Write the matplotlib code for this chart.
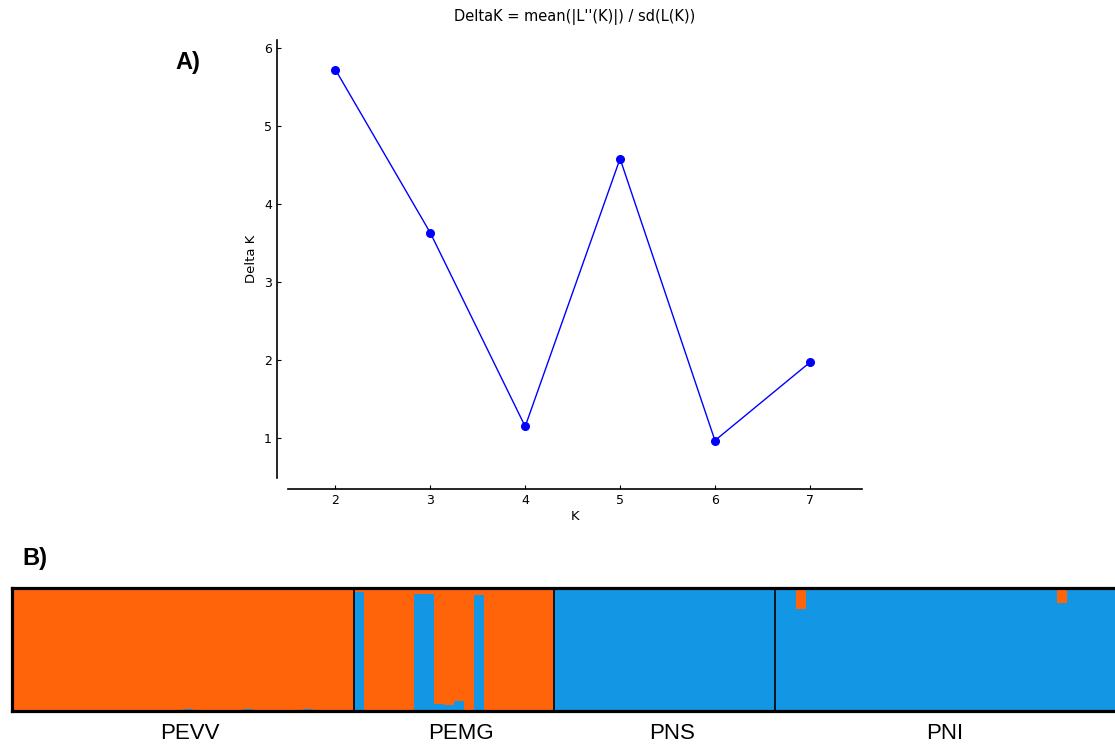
import matplotlib
matplotlib.use("Agg")
import matplotlib.pyplot as plt
import numpy as np

# panel A: Evanno DeltaK
k_values = [2, 3, 4, 5, 6, 7]
delta_k = [5.72, 3.63, 1.15, 4.58, 0.97, 1.97]

# panel B: STRUCTURE membership (fraction of the blue cluster per individual)
pop_names = ['PEVV', 'PEMG', 'PNS', 'PNI']
pevv_blue = [0.0] * 17 + [0.02] + [0.0] * 5 + [0.02] + [0.0] * 5 + [0.02, 0.0, 0.01, 0.0, 0.0]
pemg_blue = [0.97, 0.0, 0.0, 0.0, 0.0, 0.0, 0.95, 0.95, 0.06, 0.05, 0.08, 0.0,
             0.94, 0.0, 0.0, 0.0, 0.0, 0.0, 0.01, 0.0]
pns_blue = [0.99, 0.99, 0.99, 0.99, 0.985, 0.99, 0.99, 0.99, 0.99, 0.985, 0.99,
            0.99, 0.99, 0.985, 0.99, 0.99, 0.99, 0.99, 0.99, 0.99, 0.99, 0.99]
pni_blue = [0.98, 0.99, 0.83, 0.99, 0.99, 0.99, 0.99, 0.99, 0.99, 0.99, 0.99,
            0.99, 0.98, 0.98, 0.99, 0.99, 0.985, 0.98, 0.98, 0.99, 0.99, 0.99,
            0.99, 0.99, 0.99, 0.99, 0.99, 0.99, 0.88, 0.99, 0.99, 0.99, 0.99,
            0.99, 0.99]

orange = '#FF640A'
blue = '#1396E3'

fig = plt.figure(figsize=(11.15, 7.46), dpi=100)

# ---- panel A ----
ax = fig.add_axes([288 / 1115, 1 - 478 / 746, 574 / 1115, 438 / 746])
ax.plot(k_values, delta_k, color='#0000ff', lw=1, marker='o', ms=5.5)
ax.set_xlim(1.5, 7.55)
ax.set_ylim(0.49, 6.1)
ax.set_xticks(k_values)
ax.set_yticks([1, 2, 3, 4, 5, 6])
for side in ['top', 'right']:
    ax.spines[side].set_visible(False)
for side in ['left', 'bottom']:
    ax.spines[side].set_position(('outward', 8))
    ax.spines[side].set_linewidth(1.2)
ax.tick_params(direction='in', length=3, labelsize=9)
ax.set_xlabel('K', fontsize=9.5, labelpad=2)
ax.set_ylabel('Delta K', fontsize=9.5)
ax.set_title("DeltaK = mean(|L''(K)|) / sd(L(K))", fontsize=10.5, pad=14)
fig.text(175 / 1115, 1 - 63 / 746, 'A)', fontsize=17, fontweight='bold',
         family='Liberation Sans', va='center')

# ---- panel B ----
fig.text(22 / 1115, 1 - 558 / 746, 'B)', fontsize=17, fontweight='bold',
         family='Liberation Sans', va='center')
groups = [pevv_blue, pemg_blue, pns_blue, pni_blue]
blue_all = np.concatenate(groups)
n = len(blue_all)
x = np.arange(n)
xmax = 110.5
bx = fig.add_axes([12 / 1115, 1 - 711 / 746, 1110 / 1115, 123 / 746])
bx.bar(x, blue_all, width=1.0, color=blue, align='edge', lw=0)
bx.bar(x, 1 - blue_all, bottom=blue_all, width=1.0, color=orange, align='edge', lw=0)
bx.set_xlim(0, xmax)
bx.set_ylim(0, 1)
bx.set_xticks([])
bx.set_yticks([])
for s in bx.spines.values():
    s.set_linewidth(2.3)
start = 0
for name, g in zip(pop_names, groups):
    end = start + len(g)
    if start > 0:
        bx.axvline(start, color='black', lw=1.2)
    mid = (start + end) / 2 + 0.7
    if name == 'PNI':
        mid = (start + xmax) / 2 - 0.4
    bx.text(mid, -0.1, name, ha='center', va='top', fontsize=16,
            family='Liberation Sans')
    start = end

fig.savefig('out.png', dpi=100)
